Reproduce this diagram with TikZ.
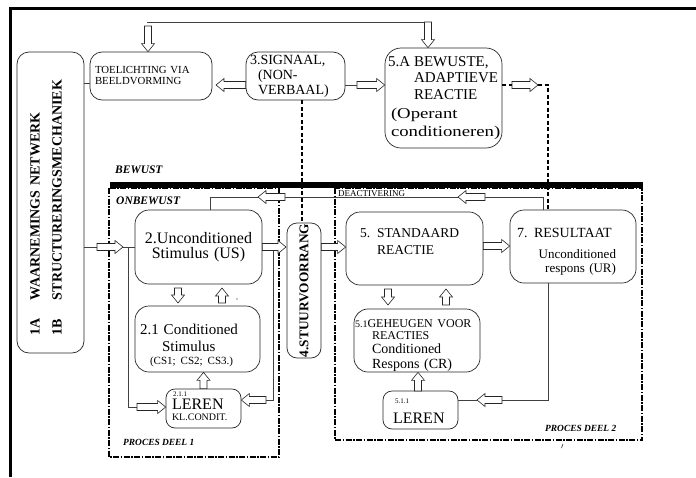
\documentclass[tikz,border=0pt]{standalone}
\usepackage{fontspec}
\setmainfont{Liberation Serif}
\usetikzlibrary{calc}
\newcommand\fs[2]{\fontsize{#1}{#2}\selectfont}
% hollow block arrow from coordinate #1 to coordinate #2 (tip at #2)
\newcommand\hollowarrow[2]{%
  \coordinate (ha-neck) at ($(#2)!8pt!(#1)$);
  \draw[hollow] ($(#1)!3.5pt!90:(#2)$) -- ($(ha-neck)!3.5pt!90:(#2)$)
    -- ($(ha-neck)!6.5pt!90:(#2)$) -- (#2) -- ($(ha-neck)!6.5pt!-90:(#2)$)
    -- ($(ha-neck)!3.5pt!-90:(#2)$) -- ($(#1)!3.5pt!-90:(#2)$) -- cycle;}
\tikzset{
  box/.style={draw=black!85, rounded corners=12pt, line width=0.7pt,
    inner xsep=0pt, inner ysep=0pt, align=left},
  hollow/.style={draw=black!85, fill=white, line width=0.6pt, line join=miter},
  link/.style={draw=black!75, line width=0.8pt},
  dashlink/.style={line width=1.2pt, dash pattern=on 4pt off 2.5pt},
  zone/.style={line width=1.3pt, dash pattern=on 6pt off 1.5pt on 1.5pt off 1.5pt},
  tag/.style={anchor=base west, inner sep=0pt},
}
\begin{document}
\begin{tikzpicture}[x=1pt, y=-1pt]
\useasboundingbox (0,0) rectangle (696,477);

% outer frame (top and left edges)
\draw[line width=3pt, line join=miter] (696,8.5) -- (10,8.5) -- (10,477);

% process zones and the awareness threshold
\draw[zone] (109,188) rectangle (279,457);
\draw[zone] (335,188) rectangle (642,440);
\draw[line width=6pt] (110,185) -- (643,185);

% ---------- boxes ----------
\node[box, rotate=90, minimum width=301pt, minimum height=67pt, text width=301pt,
      font=\bfseries\fs{14}{22}] (perc) at (50.5,202.5)
  {\hspace*{18pt}\makebox[35pt][l]{1A}WAARNEMINGS NETWERK\\\hspace*{18pt}\makebox[35pt][l]{1B}STRUCTURERINGSMECHANIEK\rule[-9pt]{0pt}{9pt}};

\node[box, minimum width=122pt, minimum height=48pt, text width=122pt,
      font=\fs{10.8}{11}] (toel) at (151,76)
  {\hspace*{5pt}TOELICHTING VIA\\\hspace*{5pt}BEELDVORMING};

\node[box, minimum width=99pt, minimum height=48pt, text width=99pt,
      font=\fs{14}{15}] (sig) at (295.5,76)
  {\hspace*{4pt}3.SIGNAAL,\\\hspace*{12pt}(NON-\\\hspace*{12pt}VERBAAL)};

\node[box, rounded corners=16pt, minimum width=117pt, minimum height=100pt, text width=117pt,
      font=\fs{15}{16.5}] (bew) at (443.5,98)
  {\hspace*{3pt}\makebox[26pt][l]{5.A}BEWUSTE,\\\hspace*{29pt}ADAPTIEVE\\\hspace*{29pt}REACTIE\\[2.5pt]\hspace*{6pt}\scalebox{1.25}[1]{(Operant}\\[1.5pt]\hspace*{6pt}\scalebox{1.25}[1]{conditioneren)}};

\node[box, rounded corners=14pt, minimum width=127pt, minimum height=74pt, text width=127pt,
      align=center, font=\fs{16}{15.5}] (us) at (198.5,247)
  {2.Unconditioned\\Stimulus (US)};

\node[box, rounded corners=14pt, minimum width=125pt, minimum height=66pt, text width=125pt,
      font=\fs{15}{17}] (cs) at (197.5,339)
  {\rule{0pt}{24pt}\hspace*{5pt}2.1 Conditioned\\\hspace*{27pt}Stimulus\\[-4pt]\hspace*{15pt}{\fs{11}{11}(CS1; CS2; CS3.)}};

\node[box, rounded corners=9pt, minimum width=75pt, minimum height=39pt, text width=75pt,
      font=\fs{16}{13}] (lerenA) at (203.5,408.5)
  {\hspace*{7pt}{\fs{7}{7}2.1.1}\\\hspace*{6pt}LEREN\\[-2pt]\hspace*{6pt}{\fs{10}{10}KL.CONDIT.}\rule[-4.4pt]{0pt}{4.4pt}};

\node[box, rotate=90, rounded corners=10pt, minimum width=135pt, minimum height=34pt,
      align=center, font=\bfseries\fs{13.3}{14}] (stuur) at (304,290.5)
  {4.STUURVOORRANG};

\node[box, rounded corners=14pt, minimum width=137pt, minimum height=73pt, text width=137pt,
      font=\fs{13.5}{17}] (std) at (414.5,248.5)
  {\hspace*{14pt}\makebox[17pt][l]{5.}STANDAARD\\\hspace*{31pt}REACTIE\rule[-14pt]{0pt}{14pt}};

\node[box, rounded corners=14pt, minimum width=126pt, minimum height=73pt, text width=126pt,
      font=\fs{13}{14}] (res) at (573,246.5)
  {{\fs{14}{14}\rule{0pt}{19pt}\hspace*{7pt}\makebox[17pt][l]{7.}RESULTAAT}\\[7pt]\makebox[106pt][r]{Unconditioned}\\\makebox[106pt][r]{respons (UR)}};

\node[box, rounded corners=14pt, minimum width=126pt, minimum height=63pt, text width=126pt,
      font=\fs{14}{14}] (geh) at (417,340.5)
  {\rule{0pt}{17pt}\hspace*{1pt}{\fs{10}{10}5.1}{\fs{12}{12}GEHEUGEN VOOR}\\[-2pt]\hspace*{18pt}{\fs{12}{12}REACTIES}\\\hspace*{18pt}Conditioned\\[1pt]\hspace*{18pt}Respons (CR)};

\node[box, rounded corners=9pt, minimum width=75pt, minimum height=38pt, text width=75pt,
      font=\fs{16}{20}] (lerenB) at (420.5,410)
  {\rule{0pt}{7.3pt}\hspace*{12pt}{\fs{7}{7}5.1.1}\\\hspace*{10pt}LEREN};

% ---------- labels ----------
\node[tag, font=\bfseries\itshape\fs{11.5}{12}] (bewust) at (115,173) {BEWUST};
\node[tag, font=\bfseries\itshape\fs{11.5}{12}] (onbewust) at (116,204) {ONBEWUST};
\node[tag, font=\bfseries\itshape\fs{9.4}{10}] (deel1) at (123,445) {PROCES DEEL 1};
\node[tag, font=\bfseries\itshape\fs{9.4}{10}] (deel2) at (545,431) {PROCES DEEL 2};
\node[tag, font=\fs{9}{9}] (deact) at (338,196) {DEACTIVERING};

% ---------- connector coordinates ----------
\coordinate (feedL) at (147,22);
\coordinate (feedR) at (428,22);
\coordinate (a1s) at (148,26);   \path (toel.north -| a1s) coordinate (a1e);
\coordinate (a2s) at (428,22);   \path (bew.north -| a2s) coordinate (a2e);
\path (sig.west |- 0,85) coordinate (a3s);  \coordinate (a3e) at (216,85);
\coordinate (a4s) at (357,85);   \path (bew.west |- a4s) coordinate (a4e);
\coordinate (a5s) at (512,85);   \coordinate (a5e) at (538,85);
\coordinate (a6s) at (97,247);   \coordinate (a6e) at (123,247);
\path (us.east) coordinate (a7s); \coordinate (a7e) at (286,247);
\path (stuur.south |- us.east) coordinate (a8s); \path (std.west |- us.east) coordinate (a8e);
\path (std.east |- 0,246) coordinate (a9s); \path (res.west |- a9s) coordinate (a9e);
\coordinate (a10s) at (178,288); \coordinate (a10e) at (178,303);
\coordinate (a11s) at (222,303); \coordinate (a11e) at (222,288);
\path (lerenA.north) coordinate (a12s); \path (cs.south -| a12s) coordinate (a12e);
\coordinate (a13s) at (137,407); \path (lerenA.west |- a13s) coordinate (a13e);
\coordinate (a14s) at (266,400); \path (lerenA.east |- a14s) coordinate (a14e);
\coordinate (a15s) at (388,289); \coordinate (a15e) at (388,305);
\coordinate (a16s) at (446,305); \coordinate (a16e) at (446,289);
\coordinate (a17s) at (418,391); \path (geh.south -| a17s) coordinate (a17e);
\coordinate (a18s) at (502,400); \coordinate (a18e) at (477,400);
\coordinate (a19s) at (485,197); \coordinate (a19e) at (458,197);
\coordinate (a20s) at (285,197); \coordinate (a20e) at (258,197);

% ---------- plain connectors ----------
\draw[link] (feedL) -- (feedR);
\draw[link] (perc.south |- 0,83) -- (toel.west |- 0,83);
\draw[link] (sig.east |- a4s) -- (a4s);
\draw[link] (perc.south |- a6s) -- (a6s);
\draw[link] (a6e) -- (us.west |- a6e);
\draw[link] (128,247) -- (128,407) -- (a13s);
\draw[link] (273,247) -- (273,400) -- (a14s);
\draw[link] (res.north -| 543,0) -- (543,197) -- (a19s);
\draw[link] (a19e) -- (a20s);
\draw[link] (a20e) -- (210,197) -- (us.north -| 210,0);
\draw[link] (res.south -| 548,0) -- (548,400) -- (a18s);
\draw[link] (a18e) -- (lerenB.east |- a18e);

% dashed signal paths
\draw[dashlink] (sig.south -| 302,0) -- (stuur.east -| 302,0);
\draw[dashlink] (bew.east |- a5s) -- (a5s);
\draw[dashlink] (a5e) -- (548,85) -- (res.north -| 548,0);

% ---------- block arrows ----------
\hollowarrow{a1s}{a1e}
\hollowarrow{a2s}{a2e}
\hollowarrow{a3s}{a3e}
\hollowarrow{a4s}{a4e}
\hollowarrow{a5s}{a5e}
\hollowarrow{a6s}{a6e}
\hollowarrow{a7s}{a7e}
\hollowarrow{a8s}{a8e}
\hollowarrow{a9s}{a9e}
\hollowarrow{a10s}{a10e}
\hollowarrow{a11s}{a11e}
\hollowarrow{a12s}{a12e}
\hollowarrow{a13s}{a13e}
\hollowarrow{a14s}{a14e}
\hollowarrow{a15s}{a15e}
\hollowarrow{a16s}{a16e}
\hollowarrow{a17s}{a17e}
\hollowarrow{a18s}{a18e}
\hollowarrow{a19s}{a19e}
\hollowarrow{a20s}{a20e}

% stray marks
\draw[line width=0.5pt] (563,444) -- (561.5,448);
\fill (237,299) circle (0.7);
\end{tikzpicture}
\end{document}
